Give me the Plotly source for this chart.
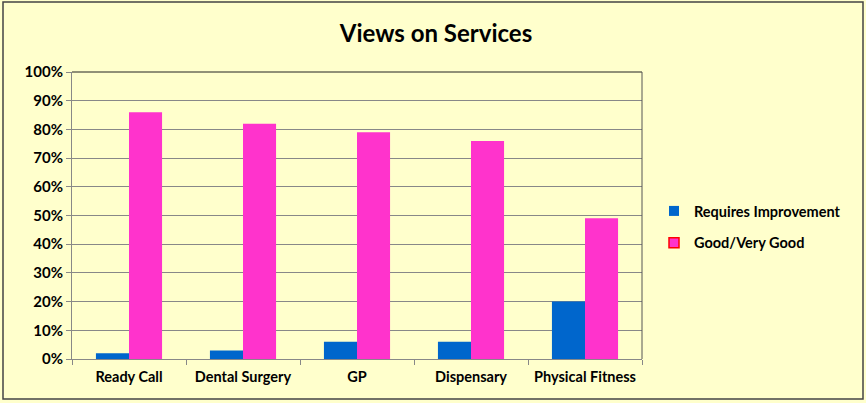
import plotly.graph_objects as go

categories = ["Ready Call", "Dental Surgery", "GP", "Dispensary", "Physical Fitness"]
requires_improvement = [0.02, 0.03, 0.06, 0.06, 0.20]
good_very_good = [0.86, 0.82, 0.79, 0.76, 0.49]
y_ticks = [i / 10 for i in range(11)]
y_tick_labels = [f"{i*10}%" for i in range(11)]

FONT = "Lato"
W, H = 866, 403
L, R, T, B = 72, 224, 72, 44
pw, ph = W - L - R, H - T - B

fig = go.Figure()
fig.add_trace(go.Bar(x=categories, y=requires_improvement, name="Requires Improvement",
                     showlegend=False, marker=dict(color="#0066CC", line=dict(width=0))))
fig.add_trace(go.Bar(x=categories, y=good_very_good, name="Good/Very Good",
                     showlegend=False, marker=dict(color="#FF33CC", line=dict(width=0))))
# legend entries
fig.add_trace(go.Scatter(x=[None], y=[None], mode="markers", name="Requires Improvement",
                         legendgroup="a",
                         marker=dict(symbol="square", size=10, color="#0066CC",
                                     line=dict(width=0))))
fig.add_trace(go.Scatter(x=[None], y=[None], mode="markers", name="Good/Very Good",
                         legendgroup="b",
                         marker=dict(symbol="square", size=10, color="#FF33CC",
                                     line=dict(width=1.5, color="#FF0000"))))

def px(x):
    return (x - L) / pw

def py(y):
    return (H - B - y) / ph

tf = dict(family=FONT, size=15, color="black", weight="bold")
xf = dict(family=FONT, size=14.5, color="black", weight="bold")
lf = dict(family=FONT, size=14.5, color="black", weight="bold")

fig.update_layout(
    width=W, height=H,
    margin=dict(l=L, r=R, t=T, b=B, autoexpand=False),
    paper_bgcolor="#FFFFCC", plot_bgcolor="#FFFFCC",
    barmode="group", bargap=0.42, bargroupgap=0,
    title=dict(text="Views on Services", x=436 / W, xanchor="center",
               y=1 - 34 / H, yanchor="middle",
               font=dict(family=FONT, size=24, color="black", weight="bold")),
    font=dict(family=FONT, color="black"),
    legend=dict(x=px(654), y=py(227), xanchor="left", yanchor="middle",
                font=lf, bgcolor="rgba(0,0,0,0)", tracegroupgap=10, itemwidth=30),
    showlegend=True,
    xaxis=dict(showgrid=False, showline=True, linecolor="#888888", linewidth=1,
               ticks="outside", ticklen=5, tickcolor="#888888", tickson="boundaries",
               tickfont=xf, tickangle=0, mirror=False, ticklabelstandoff=5),
    yaxis=dict(range=[0, 1], tickvals=y_ticks, ticktext=y_tick_labels,
               showgrid=True, gridcolor="#888888", gridwidth=1,
               showline=True, linecolor="#888888", linewidth=1,
               ticks="outside", ticklen=5, tickcolor="#888888",
               tickfont=tf, zeroline=False),
    shapes=[
        dict(type="line", xref="paper", yref="paper", x0=0, x1=1, y0=1, y1=1,
             line=dict(color="#222222", width=1)),
        dict(type="line", xref="paper", yref="paper", x0=1, x1=1, y0=0, y1=1,
             line=dict(color="#555555", width=1)),
        dict(type="rect", xref="paper", yref="paper",
             x0=px(3), x1=px(863), y0=py(399), y1=py(2),
             line=dict(color="#444444", width=1.5), fillcolor="rgba(0,0,0,0)", layer="below"),
    ],
)
fig.write_html("out.html", config={"displayModeBar": False},
               post_script="document.body.style.margin='0';document.body.style.overflow='hidden';")
